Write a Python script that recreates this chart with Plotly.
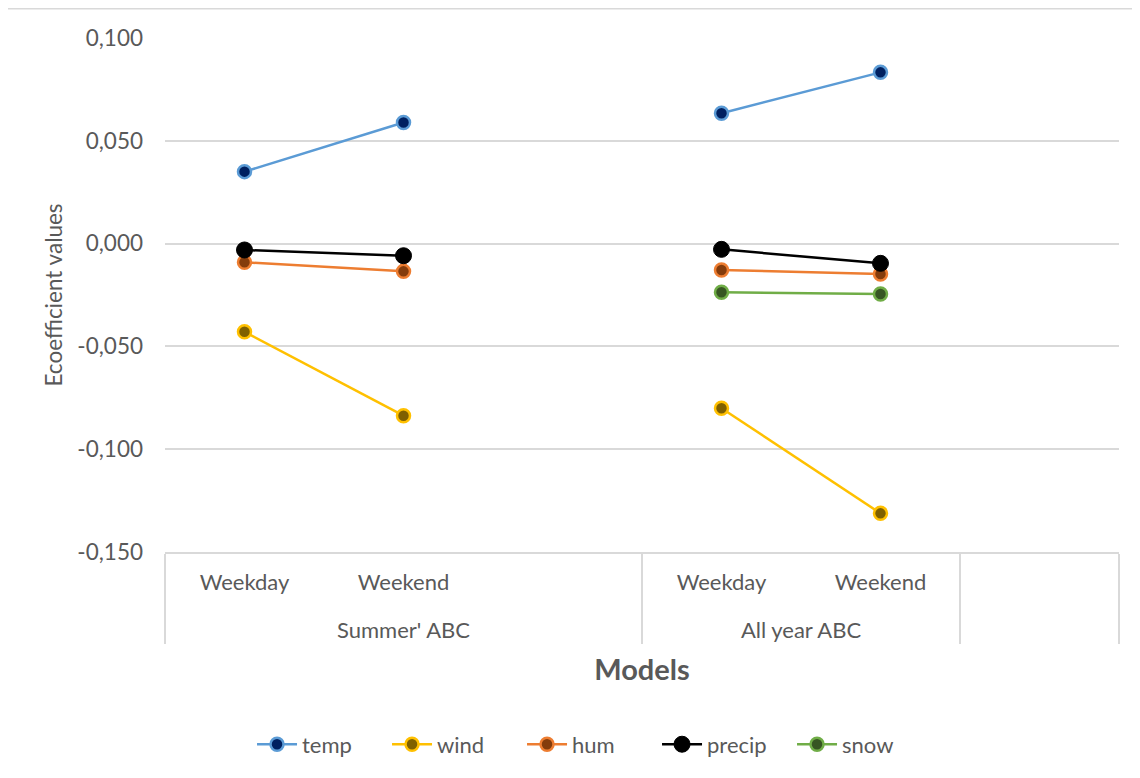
import plotly.graph_objects as go

groups = ["Summer' ABC", "Summer' ABC", "Summer' ABC", "All year ABC", "All year ABC", " "]
cats = ["Weekday", "Weekend", " ", "Weekday", "Weekend", "  "]

temp = [0.0350, 0.0589, None, 0.0634, 0.0833, None]
wind = [-0.0429, -0.0837, None, -0.0801, -0.1312, None]
hum = [-0.0091, -0.0135, None, -0.0128, -0.0148, None]
precip = [-0.0031, -0.0059, None, -0.0028, -0.0096, None]
snow = [None, None, None, -0.0237, -0.0245, None]

ytick_vals = [-0.15, -0.10, -0.05, 0.0, 0.05, 0.10]
ytick_text = ["-0,150", "-0,100", "-0,050", "0,000", "0,050", "0,100"]

series = [
    ("temp", temp, "#5B9BD5", "#002060", 13, 2.5),
    ("wind", wind, "#FFC000", "#7F6000", 13, 2.5),
    ("hum", hum, "#ED7D31", "#843C0C", 13, 2.5),
    ("precip", precip, "#000000", "#000000", 16, 1),
    ("snow", snow, "#70AD47", "#375623", 13, 2.5),
]

FONT = "Lato"
OFF = 8  # page offset of the plot div
W, H = 1140 - OFF, 778 - OFF

fig = go.Figure()
for name, vals, lc, fc, ms, mlw in series:
    fig.add_trace(go.Scatter(
        x=[["<br>" + g for g in groups], cats], y=vals, name=name, mode="lines+markers",
        line=dict(color=lc, width=2.5),
        marker=dict(size=ms, color=fc, line=dict(color=lc, width=mlw)),
        connectgaps=False,
    ))

# target pixel positions in screenshot
L = 165 - OFF
T = 38.3 - OFF
R = 1140 - 1118.7
B = 778 - 552.5
pw, ph = W - L - R, H - T - B

def px(x):
    return (x - OFF - L) / pw

def py(y):
    return (H - B - (y - OFF)) / ph

fig.add_shape(type="rect", xref="paper", yref="paper",
              x0=px(7), x1=px(1180), y0=py(9), y1=py(820),
              line=dict(color="#D9D9D9", width=1.5), layer="below")

fig.update_layout(
    width=W, height=H,
    margin=dict(l=L, r=R, t=T, b=B, autoexpand=False),
    paper_bgcolor="white", plot_bgcolor="white",
    font=dict(family=FONT, color="#595959", size=20),
    showlegend=True,
    legend=dict(orientation="h", x=px(252), xanchor="left", y=py(745), yanchor="middle",
                font=dict(size=22, color="#595959"), traceorder="normal",
                entrywidth=80, itemwidth=40),
    xaxis=dict(
        type="multicategory", showgrid=False, showline=True, linecolor="#D9D9D9", linewidth=1.5,
        range=[-0.5, len(cats) - 0.5],
        ticks="", showdividers=True, dividercolor="#D9D9D9", dividerwidth=1.5,
        tickfont=dict(size=22, color="#595959"), ticklabelstandoff=10,
        title=dict(text="<b>Models</b>", font=dict(size=29, color="#595959"), standoff=18),
    ),
    yaxis=dict(
        range=[-0.15, 0.1], tickvals=ytick_vals, ticktext=ytick_text,
        showgrid=True, gridcolor="#D9D9D9", gridwidth=1.5, zeroline=False,
        showline=False, ticks="", ticklabelstandoff=21,
        tickfont=dict(size=22.5, color="#595959"),
        title=dict(text="Ecoefficient values", font=dict(size=22.5, color="#595959"), standoff=8),
    ),
)

fig.write_html("out.html")
